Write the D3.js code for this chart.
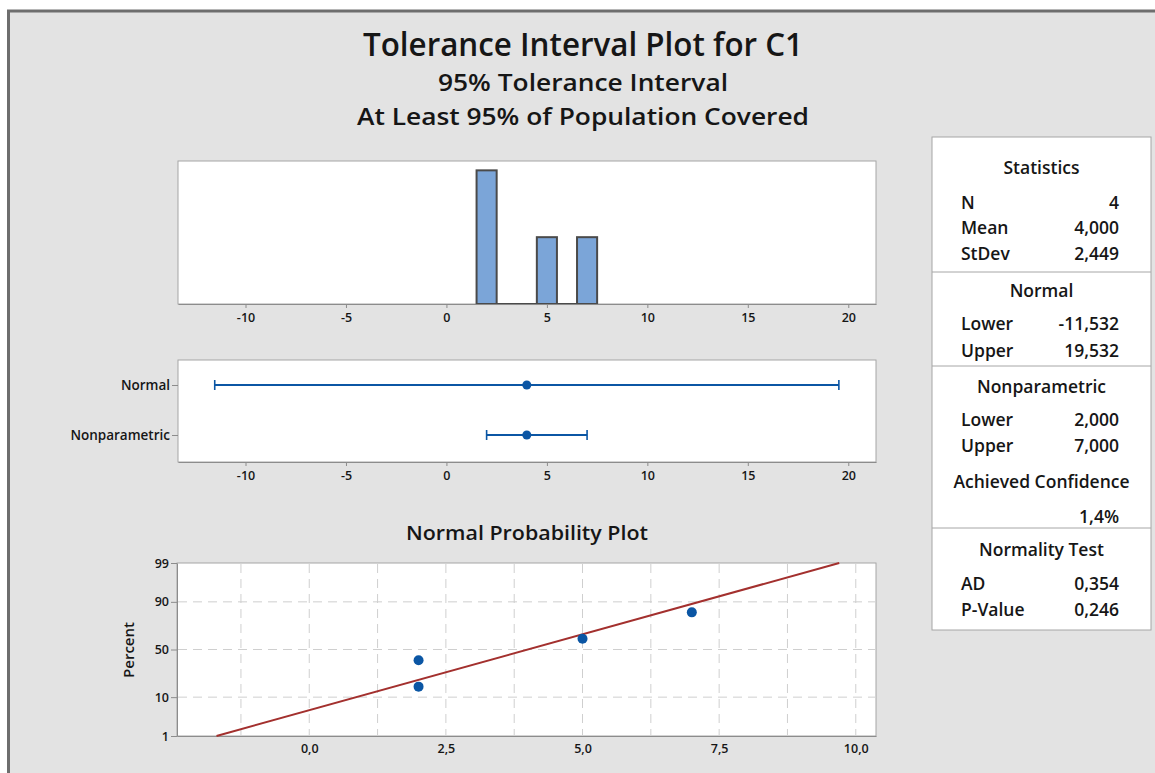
<!DOCTYPE html>
<meta charset="utf-8">
<body style="margin:0;background:#fff">
<div id="graph"></div>
<script src="https://d3js.org/d3.v7.min.js"></script>
<script>
// data (C1 = 2, 2, 5, 7)
var binMids = [2, 3, 4, 5, 6, 7];
var binCounts = [2, 0, 0, 1, 0, 1];
var histTicks = [-10, -5, 0, 5, 10, 15, 20];

var intervalNames = ["Normal", "Nonparametric"];
var intervalLower = [-11.532, 2];
var intervalUpper = [19.532, 7];
var intervalMean = [4, 4];

var probX = [2, 2, 5, 7];
var probPercent = [15.9, 38.6, 61.4, 84.1];
var probXTicks = [0, 2.5, 5, 7.5, 10];
var probYTicks = [1, 10, 50, 90, 99];
var fitMean = 4, fitStDev = 2.449;

var statsHeaders = ["Statistics", "Normal", "Nonparametric", "Achieved Confidence", "Normality Test"];
var statsLabels = ["N", "Mean", "StDev", "Lower", "Upper", "Lower", "Upper", "", "AD", "P-Value"];
var statsValues = ["4", "4,000", "2,449", "-11,532", "19,532", "2,000", "7,000", "1,4%", "0,354", "0,246"];

var W = 1155, H = 773;
var font = "'Open Sans', 'Noto Sans', sans-serif";
var ink = "#161616", frame = "#a6a6a6", blue = "#0b56a4";

var svg = d3.select("#graph").append("svg")
  .attr("width", W).attr("height", H)
  .style("font-family", font);

// window background
svg.append("rect").attr("x", 7).attr("y", 10).attr("width", W - 7).attr("height", H - 10).attr("fill", "#e3e3e3");
svg.append("line").attr("x1", 7).attr("x2", W).attr("y1", 11).attr("y2", 11).attr("stroke", "#6e6e6e").attr("stroke-width", 3);
svg.append("line").attr("x1", 8.5).attr("x2", 8.5).attr("y1", 10).attr("y2", H).attr("stroke", "#6e6e6e").attr("stroke-width", 3);

// titles
var titles = [["Tolerance Interval Plot for C1", 33, 56, 440], ["95% Tolerance Interval", 24, 91, 290], ["At Least 95% of Population Covered", 24, 125, 452]];
titles.forEach(function(t) {
  svg.append("text").attr("x", 583).attr("y", t[2])
    .attr("text-anchor", "middle").attr("font-size", t[1])
    .attr("font-weight", 600)
    .attr("textLength", t[3]).attr("lengthAdjust", "spacingAndGlyphs")
    .attr("fill", ink).text(t[0]);
});

function styleAxis(g) {
  g.select(".domain").attr("stroke", "#8c8c8c");
  g.selectAll(".tick line").attr("stroke", "#8c8c8c");
  g.selectAll(".tick text").attr("fill", ink).attr("font-size", 12.5).attr("font-weight", 600).attr("font-family", font);
}

// ---------- histogram ----------
var hx0 = 178, hx1 = 876, hy0 = 161, hy1 = 304;
var x = d3.scaleLinear().domain([-13.36, 21.38]).range([hx0, hx1]);
var yh = d3.scaleLinear().domain([0, 2.14]).range([hy1, hy0]);

svg.append("rect").attr("x", hx0).attr("y", hy0).attr("width", hx1 - hx0).attr("height", hy1 - hy0)
  .attr("fill", "#fff").attr("stroke", frame);

svg.selectAll(".bar").data(binMids).enter().append("rect")
  .attr("class", "bar")
  .attr("x", function(d) { return x(d - 0.5); })
  .attr("width", function(d) { return x(d + 0.5) - x(d - 0.5); })
  .attr("y", function(d, i) { return yh(binCounts[i]); })
  .attr("height", function(d, i) { return yh(0) - yh(binCounts[i]) + 0.01; })
  .attr("fill", "#7ba5d8").attr("stroke", "#4a4a4a").attr("stroke-width", 2);

var xAxis = d3.axisBottom(x).tickValues(histTicks).tickSize(4).tickSizeOuter(0).tickPadding(5)
  .tickFormat(function(d) { return String(d); });

svg.append("g").attr("transform", "translate(0," + hy1 + ")")
  .call(xAxis).call(styleAxis);

// ---------- interval plot ----------
var iy0 = 360, iy1 = 462;
var yi = d3.scalePoint().domain(intervalNames).range([385, 435]);

svg.append("rect").attr("x", hx0).attr("y", iy0).attr("width", hx1 - hx0).attr("height", iy1 - iy0)
  .attr("fill", "#fff").attr("stroke", frame);

svg.append("g").attr("transform", "translate(0," + iy1 + ")")
  .call(xAxis).call(styleAxis);
svg.append("g").attr("transform", "translate(" + hx0 + ",0)")
  .call(d3.axisLeft(yi).tickSize(6).tickPadding(2))
  .call(styleAxis)
  .call(function(g) {
    g.select(".domain").remove();
    g.selectAll(".tick text").attr("font-size", 13.5);
  });

var ints = svg.selectAll(".int").data(intervalNames).enter().append("g").attr("class", "int");
ints.append("line")
  .attr("x1", function(d, i) { return x(intervalLower[i]); })
  .attr("x2", function(d, i) { return x(intervalUpper[i]); })
  .attr("y1", function(d) { return yi(d); }).attr("y2", function(d) { return yi(d); })
  .attr("stroke", blue).attr("stroke-width", 2);
[intervalLower, intervalUpper].forEach(function(arr) {
  ints.append("line")
    .attr("x1", function(d, i) { return x(arr[i]); }).attr("x2", function(d, i) { return x(arr[i]); })
    .attr("y1", function(d) { return yi(d) - 5; }).attr("y2", function(d) { return yi(d) + 5; })
    .attr("stroke", blue).attr("stroke-width", 1.6);
});
ints.append("circle")
  .attr("cx", function(d, i) { return x(intervalMean[i]); })
  .attr("cy", function(d) { return yi(d); })
  .attr("r", 4.5).attr("fill", blue);

// ---------- normal probability plot ----------
function probit(p) {
  var a = [-3.969683028665376e+01, 2.209460984245205e+02, -2.759285104469687e+02, 1.383577518672690e+02, -3.066479806614716e+01, 2.506628277459239e+00];
  var b = [-5.447609879822406e+01, 1.615858368580409e+02, -1.556989798598866e+02, 6.680131188771972e+01, -1.328068155288572e+01];
  var c = [-7.784894002430293e-03, -3.223964580411365e-01, -2.400758277161838e+00, -2.549732539343734e+00, 4.374664141464968e+00, 2.938163982698783e+00];
  var d = [7.784695709041462e-03, 3.224671290700398e-01, 2.445134137142996e+00, 3.754408661907416e+00];
  var q, r;
  if (p < 0.02425) {
    q = Math.sqrt(-2 * Math.log(p));
    return (((((c[0] * q + c[1]) * q + c[2]) * q + c[3]) * q + c[4]) * q + c[5]) / ((((d[0] * q + d[1]) * q + d[2]) * q + d[3]) * q + 1);
  }
  if (p > 1 - 0.02425) return -probit(1 - p);
  q = p - 0.5; r = q * q;
  return (((((a[0] * r + a[1]) * r + a[2]) * r + a[3]) * r + a[4]) * r + a[5]) * q / (((((b[0] * r + b[1]) * r + b[2]) * r + b[3]) * r + b[4]) * r + 1);
}

var px0 = 177, px1 = 876, py0 = 563, py1 = 736;
var xp = d3.scaleLinear().domain([-2.42, 10.37]).range([px0, px1]);
var yp = d3.scaleLinear().domain([probit(0.01), probit(0.99)]).range([py1, py0]);
var comma = d3.formatLocale({decimal: ",", thousands: ".", grouping: [3], currency: ["", ""]});

svg.append("text").attr("x", 527).attr("y", 540).attr("text-anchor", "middle")
  .attr("font-size", 19).attr("font-weight", 600).attr("fill", ink)
  .attr("textLength", 242).attr("lengthAdjust", "spacingAndGlyphs")
  .text("Normal Probability Plot");

svg.append("rect").attr("x", px0).attr("y", py0).attr("width", px1 - px0).attr("height", py1 - py0)
  .attr("fill", "#fff").attr("stroke", frame);

// grid
var gridX = d3.range(-1.25, 10.1, 1.25);
svg.append("g").selectAll("line").data(gridX).enter().append("line")
  .attr("x1", function(d) { return xp(d); }).attr("x2", function(d) { return xp(d); })
  .attr("y1", py0 + 1).attr("y2", py1 - 1)
  .attr("stroke", "#cfcfcf").attr("stroke-dasharray", "9,6");
svg.append("g").selectAll("line").data([10, 50, 90]).enter().append("line")
  .attr("x1", px0 + 1).attr("x2", px1 - 1)
  .attr("y1", function(d) { return yp(probit(d / 100)); }).attr("y2", function(d) { return yp(probit(d / 100)); })
  .attr("stroke", "#cfcfcf").attr("stroke-dasharray", "9,6");

svg.append("g").attr("transform", "translate(0," + py1 + ")")
  .call(d3.axisBottom(xp).tickValues(probXTicks).tickSize(0).tickPadding(8).tickFormat(comma.format(".1f")))
  .call(styleAxis);
svg.append("g").attr("transform", "translate(" + px0 + ",0)")
  .call(d3.axisLeft(d3.scaleLinear().domain(yp.domain()).range(yp.range()))
    .tickValues(probYTicks.map(function(p) { return probit(p / 100); }))
    .tickSize(6).tickSizeOuter(0).tickPadding(2)
    .tickFormat(function(z, i) { return probYTicks[i]; }))
  .call(styleAxis);

svg.append("text").attr("transform", "translate(134,650) rotate(-90)")
  .attr("text-anchor", "middle").attr("font-size", 15).attr("font-weight", 600).attr("fill", ink).text("Percent");

// fitted line
var zLo = probit(0.01), zHi = probit(0.99);
svg.append("line")
  .attr("x1", xp(fitMean + zLo * fitStDev)).attr("y1", yp(zLo))
  .attr("x2", xp(fitMean + zHi * fitStDev)).attr("y2", yp(zHi))
  .attr("stroke", "#a3302e").attr("stroke-width", 2);

svg.selectAll(".pt").data(probX).enter().append("circle")
  .attr("class", "pt")
  .attr("cx", function(d) { return xp(d); })
  .attr("cy", function(d, i) { return yp(probit(probPercent[i] / 100)); })
  .attr("r", 5).attr("fill", blue);

// ---------- statistics table ----------
var tx0 = 932, tx1 = 1151, ty0 = 137, ty1 = 630;
svg.append("rect").attr("x", tx0).attr("y", ty0).attr("width", tx1 - tx0).attr("height", ty1 - ty0)
  .attr("fill", "#fff").attr("stroke", frame);
[272, 366, 528].forEach(function(y) {
  svg.append("line").attr("x1", tx0).attr("x2", tx1).attr("y1", y).attr("y2", y).attr("stroke", frame);
});
var headerY = [168, 291, 387, 482, 550];
var rowY = [203, 228, 254, 324, 351, 420, 446, 517, 584, 610];
var tcx = (tx0 + tx1) / 2;
var fs = 17.5;
svg.selectAll(".sh").data(statsHeaders).enter().append("text")
  .attr("class", "sh")
  .attr("x", tcx).attr("y", function(d, i) { return headerY[i]; })
  .attr("dy", "0.35em").attr("text-anchor", "middle")
  .attr("font-size", fs).attr("font-weight", 600).attr("fill", ink)
  .text(function(d) { return d; });
svg.selectAll(".sl").data(statsLabels).enter().append("text")
  .attr("class", "sl")
  .attr("x", 961).attr("y", function(d, i) { return rowY[i]; })
  .attr("dy", "0.35em").attr("font-size", fs).attr("font-weight", 600).attr("fill", ink)
  .text(function(d) { return d; });
svg.selectAll(".sv").data(statsValues).enter().append("text")
  .attr("class", "sv")
  .attr("x", 1119).attr("y", function(d, i) { return rowY[i]; })
  .attr("dy", "0.35em").attr("text-anchor", "end").attr("font-size", fs).attr("font-weight", 600).attr("fill", ink)
  .text(function(d) { return d; });
</script>
</body>
